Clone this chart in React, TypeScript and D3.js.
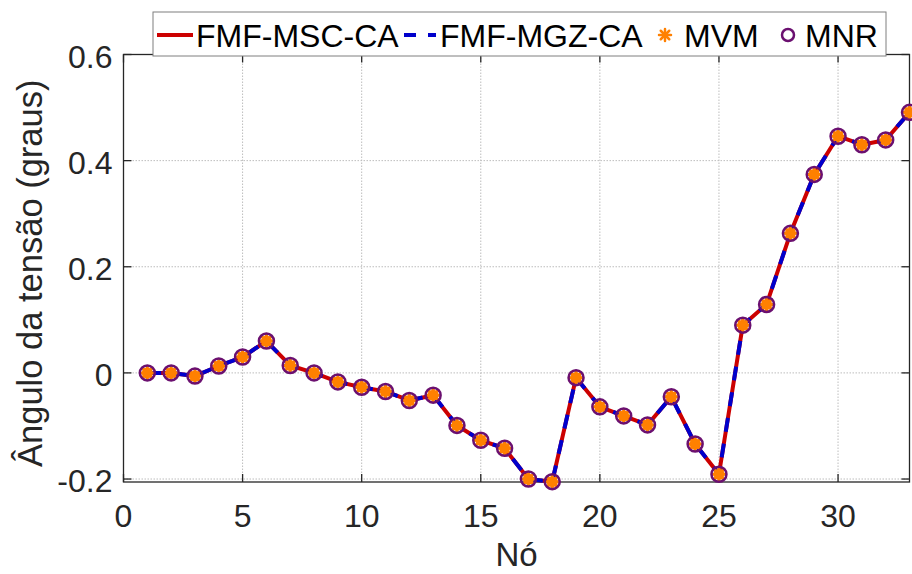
import React from "react";
import * as d3 from "d3";

const nodes = [1, 2, 3, 4, 5, 6, 7, 8, 9, 10, 11, 12, 13, 14, 15, 16, 17, 18, 19, 20, 21, 22, 23, 24, 25, 26, 27, 28, 29, 30, 31, 32, 33];
const angleMSC = [0, 0, -0.006, 0.013, 0.030, 0.060, 0.014, 0, -0.017, -0.027, -0.035, -0.052, -0.042, -0.099, -0.127, -0.142, -0.200, -0.205, -0.009, -0.064, -0.081, -0.098, -0.045, -0.134, -0.191, 0.090, 0.129, 0.263, 0.374, 0.446, 0.430, 0.439, 0.491];
const angleMGZ = [0, 0, -0.006, 0.013, 0.030, 0.060, 0.014, 0, -0.017, -0.027, -0.035, -0.052, -0.042, -0.099, -0.127, -0.142, -0.200, -0.205, -0.009, -0.064, -0.081, -0.098, -0.045, -0.134, -0.191, 0.090, 0.129, 0.263, 0.374, 0.446, 0.430, 0.439, 0.491];
const angleMVM = [0, 0, -0.006, 0.013, 0.030, 0.060, 0.014, 0, -0.017, -0.027, -0.035, -0.052, -0.042, -0.099, -0.127, -0.142, -0.200, -0.205, -0.009, -0.064, -0.081, -0.098, -0.045, -0.134, -0.191, 0.090, 0.129, 0.263, 0.374, 0.446, 0.430, 0.439, 0.491];
const angleMNR = [0, 0, -0.006, 0.013, 0.030, 0.060, 0.014, 0, -0.017, -0.027, -0.035, -0.052, -0.042, -0.099, -0.127, -0.142, -0.200, -0.205, -0.009, -0.064, -0.081, -0.098, -0.045, -0.134, -0.191, 0.090, 0.129, 0.263, 0.374, 0.446, 0.430, 0.439, 0.491];
const xTicks = [0, 5, 10, 15, 20, 25, 30];
const yTicks = [-0.2, 0, 0.2, 0.4, 0.6];
const yTickLabels = ["-0.2", "0", "0.2", "0.4", "0.6"];
const legendLabels = ["FMF-MSC-CA", "FMF-MGZ-CA", "MVM", "MNR"];

const W = 912, H = 574;
const L = 123.5, R = 909.5, T = 54.5, B = 482;
const FONT = "'Liberation Sans', Arial, Helvetica, sans-serif";
const AX = "#262626";
const RED = "#CC0000";
const BLUE = "#0000CC";
const ORANGE = "#FF8000";
const PURPLE = "#6B1070";

function Asterisk({ cx, cy, r, sw, color }: { cx: number; cy: number; r: number; sw: number; color: string }) {
  const angles = [0, 45, 90, 135];
  return (
    <g>
      {angles.map((a) => {
        const rad = (a * Math.PI) / 180;
        const dx = Math.cos(rad) * r, dy = Math.sin(rad) * r;
        return <line key={a} x1={cx - dx} y1={cy - dy} x2={cx + dx} y2={cy + dy} stroke={color} strokeWidth={sw} strokeLinecap="round" />;
      })}
    </g>
  );
}

export default function App() {
  const x = d3.scaleLinear().domain([0, 33]).range([L, R]);
  const y = d3.scaleLinear().domain([-0.2056, 0.6]).range([B, T]);
  const line = d3.line<number>().x((_, i) => x(nodes[i])).y((d) => y(d));

  const legY = 35;
  return (
    <svg width={W} height={H} style={{ position: "absolute", left: 0, top: 0, background: "#fff" }} fontFamily={FONT}>
      <rect x={0} y={0} width={W} height={H} fill="#fff" />
      {/* grid */}
      {xTicks.filter((t) => t > 0).map((t) => (
        <line key={"gx" + t} x1={x(t)} x2={x(t)} y1={T} y2={B} stroke="#bdbdbd" strokeWidth={1} strokeDasharray="1.5,1.5" />
      ))}
      {yTicks.filter((t) => t < 0.6).map((t) => (
        <line key={"gy" + t} x1={L} x2={R} y1={y(t)} y2={y(t)} stroke="#bdbdbd" strokeWidth={1} strokeDasharray="1.5,1.5" />
      ))}
      {/* axes box */}
      <rect x={L} y={T} width={R - L} height={B - T} fill="none" stroke={AX} strokeWidth={1.3} />
      {/* ticks */}
      {xTicks.map((t) => (
        <g key={"tx" + t}>
          <line x1={x(t)} x2={x(t)} y1={B} y2={B - 8} stroke={AX} strokeWidth={1.3} />
          <line x1={x(t)} x2={x(t)} y1={T} y2={T + 8} stroke={AX} strokeWidth={1.3} />
          <text x={x(t)} y={526.5} textAnchor="middle" fontSize={32} fill={AX}>{t}</text>
        </g>
      ))}
      {yTicks.map((t, i) => (
        <g key={"ty" + t}>
          <line x1={L} x2={L + 8} y1={y(t)} y2={y(t)} stroke={AX} strokeWidth={1.3} />
          <line x1={R} x2={R - 8} y1={y(t)} y2={y(t)} stroke={AX} strokeWidth={1.3} />
          <text x={112.5} y={y(t) + 13} textAnchor="end" fontSize={32} fill={AX}>{yTickLabels[i]}</text>
        </g>
      ))}
      {/* axis labels */}
      <text x={(L + R) / 2} y={566} textAnchor="middle" fontSize={33} fill={AX}>Nó</text>
      <text transform={`translate(42,${(T + B) / 2 + 5}) rotate(-90)`} textAnchor="middle" fontSize={34.5} fill={AX}>Ângulo da tensão (graus)</text>
      {/* series */}
      <path d={line(angleMSC) || ""} fill="none" stroke={RED} strokeWidth={4} strokeLinejoin="round" />
      <path d={line(angleMGZ) || ""} fill="none" stroke={BLUE} strokeWidth={4} strokeDasharray="14,12" />
      {angleMVM.map((v, i) => (
        <g key={"mvm" + i}>
          <circle cx={x(nodes[i])} cy={y(v)} r={5.5} fill={ORANGE} />
          <Asterisk cx={x(nodes[i])} cy={y(v)} r={6} sw={3} color={ORANGE} />
        </g>
      ))}
      {angleMNR.map((v, i) => (
        <circle key={"mnr" + i} cx={x(nodes[i])} cy={y(v)} r={7.5} fill="none" stroke={PURPLE} strokeWidth={2.5} />
      ))}
      {/* legend */}
      <rect x={153} y={12} width={733} height={44} fill="#fff" stroke="#7f7f7f" strokeWidth={1} />
      <line x1={157} x2={193} y1={legY} y2={legY} stroke={RED} strokeWidth={4} />
      <text x={196} y={legY + 12} fontSize={32} fill="#000">{legendLabels[0]}</text>
      <line x1={404} x2={436} y1={legY} y2={legY} stroke={BLUE} strokeWidth={4} strokeDasharray="12,12" />
      <text x={440} y={legY + 12} fontSize={32} fill="#000">{legendLabels[1]}</text>
      <Asterisk cx={665} cy={legY} r={6} sw={2.5} color={ORANGE} />
      <text x={684} y={legY + 12} fontSize={32} fill="#000">{legendLabels[2]}</text>
      <circle cx={788} cy={legY} r={6} fill="none" stroke={PURPLE} strokeWidth={2.5} />
      <text x={805} y={legY + 12} fontSize={32} fill="#000">{legendLabels[3]}</text>
    </svg>
  );
}
